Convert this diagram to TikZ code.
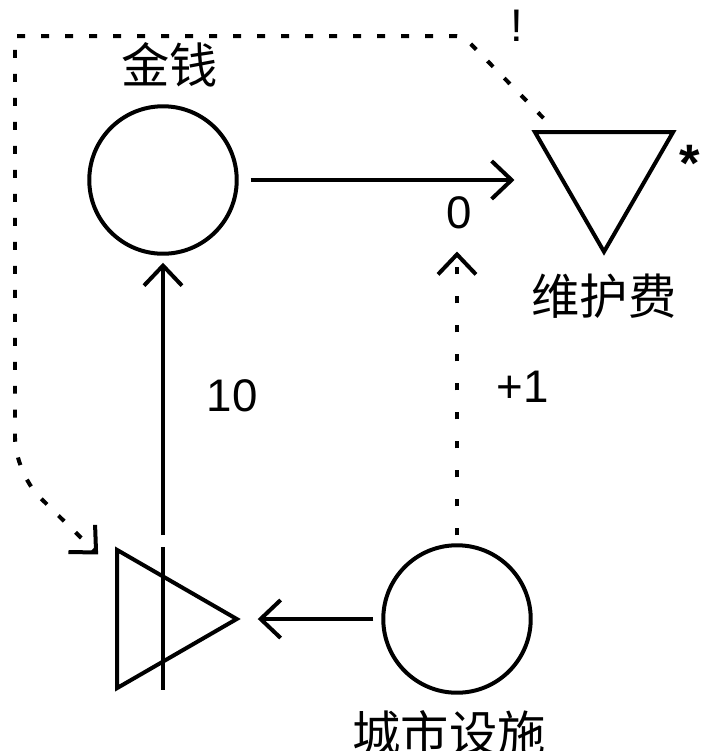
\documentclass[tikz,border=0pt]{standalone}
\usepackage{fontspec}
\setmainfont{Liberation Sans}
\newfontfamily\cjkfont{Noto Sans CJK SC}
\usetikzlibrary{positioning,arrows.meta,shapes.geometric,calc}

\begin{document}
\begin{tikzpicture}[
  x=0.02cm, y=-0.02cm,
  pool/.style={draw, circle, minimum size=2.95cm, line width=0.08cm},
  tri/.style={draw, regular polygon, regular polygon sides=3, minimum size=3.19cm, inner sep=0pt, line width=0.08cm},
  flow/.style={line width=0.08cm, -{Straight Barb[length=0.4cm,width=0.76cm]}},
  state/.style={flow, dash pattern=on 0.16cm off 0.32cm},
  lbl/.style={font=\fontsize{26}{30}\selectfont, inner sep=0pt},
  cn/.style={inner sep=0pt, font=\fontsize{27.5}{30}\selectfont\cjkfont}
]
\useasboundingbox (0,0) rectangle (704,751);

% pools
\node[pool] (money) at (163,180) {};
\node[pool] (city) at (457,619) {};
% drain and converter
\node[tri, shape border rotate=180] (fee) at (604,172) {};
\node[tri, shape border rotate=-90] (conv) at (157,619) {};
\draw[line width=0.08cm] ($(conv.center)+(6,-72)$) -- ($(conv.center)+(6,71)$);

% names
\node[cn, above=0.34cm of money, xshift=0.14cm] (moneyname) {金钱};
\node[cn, below=0.35cm of fee.corner 1] (feename) {维护费};
\node[cn, below=0.3cm of city, xshift=-0.16cm] (cityname) {城市设施};
\node[lbl, font=\fontsize{30}{30}\selectfont\bfseries] (star) at (690,163) {*};

% resource flows
\draw[flow, shorten <=0.24cm, shorten >=0.34cm] (money.east) -- (money.east -| fee.corner 3);
\node[lbl] (zero) at (459,213) {0};
\coordinate (convtop) at ($(conv.center)+(6,-84)$);
\draw[flow, shorten >=0.14cm] (convtop) -- (convtop |- money.south)
  node[lbl, midway, right=0.84cm] (ten) {10};
\draw[flow, shorten <=0.16cm, shorten >=0.34cm] (city.west) -- (conv.corner 1);

% state connections
\draw[state, shorten <=0.16cm, shorten >=0.44cm, dash pattern=on 0.14cm off 0.44cm] (city.north) -- (city.north |- zero.south)
  node[lbl, midway, right=0.76cm] (plusone) {+1};
\coordinate (sfrom) at ($(fee.corner 3)+(12,-12)$);
\coordinate (sto) at ($(conv.corner 2)+(-17,8)$);
\draw[state] (sfrom) [rounded corners=0.15cm] -- (463,36) [sharp corners] -- (15,36) [rounded corners=0.7cm] -- (15,473) -- (sto);
\node[lbl] (bang) at (517,26) {!};
\end{tikzpicture}
\end{document}
